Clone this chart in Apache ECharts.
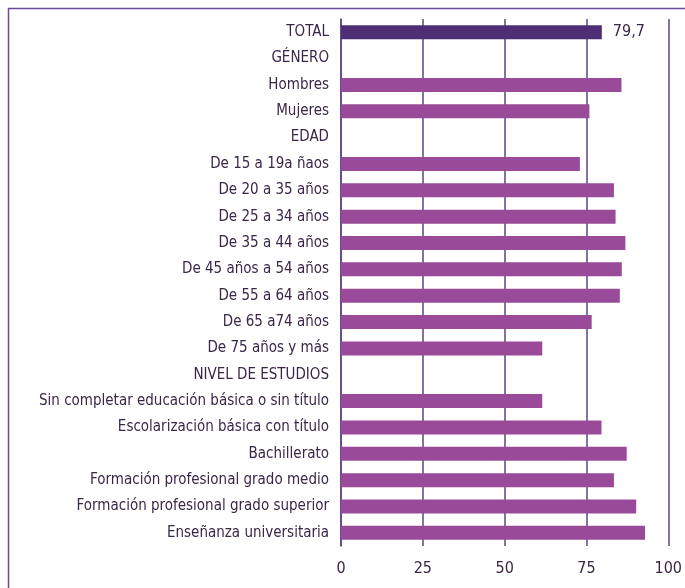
<!DOCTYPE html>
<html>
<head>
<meta charset="utf-8">
<script src="https://cdn.jsdelivr.net/npm/echarts@6/dist/echarts.min.js"></script>
<style>
html,body{margin:0;padding:0;background:#fff;}
#chart{width:685px;height:588px;}
</style>
</head>
<body>
<div id="chart"></div>
<script>
const categories = [
  "TOTAL", "GÉNERO", "Hombres", "Mujeres", "EDAD",
  "De 15 a 19a ñaos", "De 20 a 35 años", "De 25 a 34 años", "De 35 a 44 años",
  "De 45 años a 54 años", "De 55 a 64 años", "De 65 a74 años", "De 75 años y más",
  "NIVEL DE ESTUDIOS",
  "Sin completar educación básica o sin título", "Escolarización básica con título",
  "Bachillerato", "Formación profesional grado medio",
  "Formación profesional grado superior", "Enseñanza universitaria"
];
const totalValues = [79.7, null, null, null, null, null, null, null, null, null, null, null, null, null, null, null, null, null, null, null];
const groupValues = [null, null, 85.7, 75.9, null, 73.0, 83.4, 83.9, 86.9, 85.8, 85.2, 76.6, 61.5, null, 61.5, 79.6, 87.3, 83.4, 90.2, 92.9];
const xTicks = [0, 25, 50, 75, 100];

const chart = echarts.init(document.getElementById('chart'));
const textColor = '#3a2748';
const fontFamily = '"Liberation Sans Narrow", "DejaVu Sans Condensed", sans-serif';

chart.setOption({
  animation: false,
  graphic: [{
    type: 'rect',
    shape: { x: 8.5, y: 8.5, width: 720, height: 620 },
    style: { fill: 'none', stroke: '#6a4a9c', lineWidth: 1.5 },
    silent: true
  }],
  grid: { left: 341, right: 11, top: 19, bottom: 42, containLabel: false },
  xAxis: {
    type: 'value', min: xTicks[0], max: xTicks[xTicks.length - 1], interval: 25,
    position: 'bottom',
    axisLine: { show: false },
    axisTick: { show: false },
    splitLine: { show: true, lineStyle: { color: '#5e4284', width: 1.5 } },
    axisLabel: { color: textColor, fontSize: 16, fontFamily: fontFamily, margin: 15 }
  },
  yAxis: {
    type: 'category', data: categories, inverse: true,
    axisLine: { show: true, lineStyle: { color: '#5e4284', width: 1.5 } },
    axisTick: { show: false },
    axisLabel: { color: textColor, fontSize: 15, fontFamily: fontFamily, margin: 12 }
  },
  series: [
    {
      type: 'bar', data: totalValues, barWidth: 14, barGap: '-100%',
      itemStyle: { color: '#4e2f76' },
      label: {
        show: true, position: 'right', distance: 11,
        color: textColor, fontSize: 16, fontFamily: fontFamily,
        formatter: p => p.value == null ? '' : String(p.value).replace('.', ',')
      }
    },
    {
      type: 'bar', data: groupValues, barWidth: 14, barGap: '-100%',
      itemStyle: { color: '#994a99' }
    }
  ]
});
</script>
</body>
</html>
